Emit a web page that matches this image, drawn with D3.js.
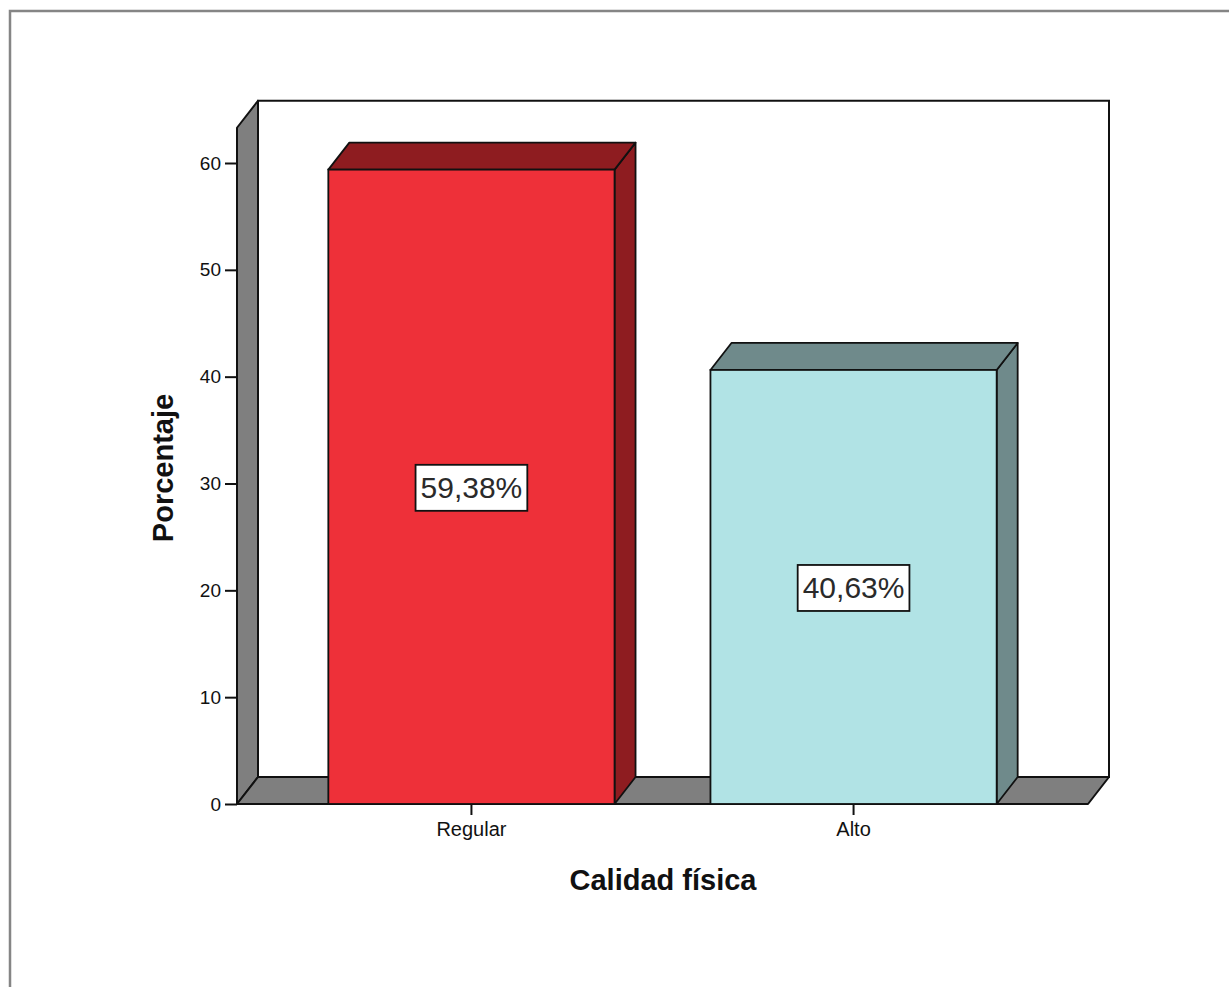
<!DOCTYPE html>
<html>
<head>
<meta charset="utf-8">
<script src="https://cdn.jsdelivr.net/npm/d3@7"></script>
<style>
  html, body { margin: 0; padding: 0; background: #fff; }
  svg { display: block; font-family: "Liberation Sans", Arial, sans-serif; }
</style>
</head>
<body>
<svg id="chart" width="1229" height="987"></svg>
<script>
// Categories and percentages
const categories = ["Regular", "Alto"];
const values = [59.38, 40.63];
const valueLabels = ["59,38%", "40,63%"];
const yTicks = [0, 10, 20, 30, 40, 50, 60];
const frontColors = ["#ee3039", "#b1e3e5"];
const shadeColors = ["#8e1c20", "#6f8a8b"];
const xTitle = "Calidad física";
const yTitle = "Porcentaje";

const svg = d3.select("#chart");
const W = 1229, H = 987;

// 3D depth offset of the chart box
const dx = 21, dy = -27;
const floorLeft = 237, floorRight = 1088, floorY = 804;
const axisTopValue = 63.3;

const y = d3.scaleLinear().domain([0, 60]).range([floorY, 163]);
const x = d3.scaleBand()
  .domain(categories)
  .range([floorLeft, floorRight])
  .paddingInner(0.251)
  .paddingOuter(0.239);

// Outer frame
svg.append("rect")
  .attr("x", 10).attr("y", 11)
  .attr("width", W + 20).attr("height", H + 20)
  .attr("fill", "none").attr("stroke", "#858585").attr("stroke-width", 2.5);

const topY = y(axisTopValue);
const stroke = "#111";

// Back wall
svg.append("rect")
  .attr("x", floorLeft + dx).attr("y", topY + dy)
  .attr("width", floorRight - floorLeft).attr("height", floorY - topY)
  .attr("fill", "#fff").attr("stroke", stroke).attr("stroke-width", 2);

// Left wall
svg.append("polygon")
  .attr("points", [
    [floorLeft, topY], [floorLeft + dx, topY + dy],
    [floorLeft + dx, floorY + dy], [floorLeft, floorY]
  ].map(p => p.join(",")).join(" "))
  .attr("fill", "#7f7f7f").attr("stroke", stroke).attr("stroke-width", 2)
  .attr("stroke-linejoin", "round");

// Floor
svg.append("polygon")
  .attr("points", [
    [floorLeft, floorY], [floorLeft + dx, floorY + dy],
    [floorRight + dx, floorY + dy], [floorRight, floorY]
  ].map(p => p.join(",")).join(" "))
  .attr("fill", "#7f7f7f").attr("stroke", stroke).attr("stroke-width", 2)
  .attr("stroke-linejoin", "round");

// Bars
const data = categories.map((c, i) => ({ c, v: values[i], label: valueLabels[i], i }));
const bars = svg.append("g").selectAll("g").data(data).join("g");

bars.append("polygon") // right side
  .attr("points", d => {
    const x1 = x(d.c) + x.bandwidth(), yt = y(d.v);
    return [[x1, yt], [x1 + dx, yt + dy], [x1 + dx, floorY + dy], [x1, floorY]]
      .map(p => p.join(",")).join(" ");
  })
  .attr("fill", d => shadeColors[d.i]).attr("stroke", stroke).attr("stroke-width", 1.8)
  .attr("stroke-linejoin", "round");

bars.append("polygon") // top
  .attr("points", d => {
    const x0 = x(d.c), x1 = x0 + x.bandwidth(), yt = y(d.v);
    return [[x0, yt], [x0 + dx, yt + dy], [x1 + dx, yt + dy], [x1, yt]]
      .map(p => p.join(",")).join(" ");
  })
  .attr("fill", d => shadeColors[d.i]).attr("stroke", stroke).attr("stroke-width", 1.8)
  .attr("stroke-linejoin", "round");

bars.append("rect") // front
  .attr("x", d => x(d.c)).attr("y", d => y(d.v))
  .attr("width", x.bandwidth()).attr("height", d => floorY - y(d.v))
  .attr("fill", d => frontColors[d.i]).attr("stroke", stroke).attr("stroke-width", 1.8);

// Value labels in boxes
bars.each(function(d) {
  const g = d3.select(this);
  const cx = x(d.c) + x.bandwidth() / 2;
  const cy = (y(d.v) + floorY) / 2 + 1;
  const t = g.append("text")
    .attr("x", cx).attr("y", cy)
    .attr("text-anchor", "middle").attr("dominant-baseline", "central")
    .attr("font-size", 30).attr("fill", "#2a2a2a")
    .text(d.label);
  const bb = t.node().getBBox();
  g.insert("rect", "text")
    .attr("x", bb.x - 5).attr("y", cy - 23)
    .attr("width", bb.width + 10).attr("height", 46)
    .attr("fill", "#fff").attr("stroke", stroke).attr("stroke-width", 1.8);
});

// Y axis
const yAxis = svg.append("g")
  .attr("transform", `translate(${floorLeft},0)`)
  .call(d3.axisLeft(y).tickValues(yTicks).tickSize(12).tickPadding(4).tickFormat(d3.format("d")));
yAxis.select(".domain").remove();
yAxis.selectAll("line").attr("stroke", stroke).attr("stroke-width", 2);
yAxis.selectAll("text").attr("font-size", 19).attr("fill", "#111")
  .attr("font-family", "\"Liberation Sans\", Arial, sans-serif");

// X axis
const xAxis = svg.append("g")
  .attr("transform", `translate(0,${floorY})`)
  .call(d3.axisBottom(x).tickSize(11).tickPadding(7));
xAxis.select(".domain").remove();
xAxis.selectAll("line").attr("stroke", stroke).attr("stroke-width", 2);
xAxis.selectAll("text").attr("font-size", 20).attr("fill", "#111")
  .attr("font-family", "\"Liberation Sans\", Arial, sans-serif");

// Axis titles
svg.append("text")
  .attr("x", 663).attr("y", 890)
  .attr("text-anchor", "middle")
  .attr("font-size", 29).attr("font-weight", "bold").attr("fill", "#111")
  .text(xTitle);

svg.append("text")
  .attr("transform", `translate(173,${468}) rotate(-90)`)
  .attr("text-anchor", "middle")
  .attr("font-size", 29).attr("font-weight", "bold").attr("fill", "#111")
  .text(yTitle);
</script>
</body>
</html>
